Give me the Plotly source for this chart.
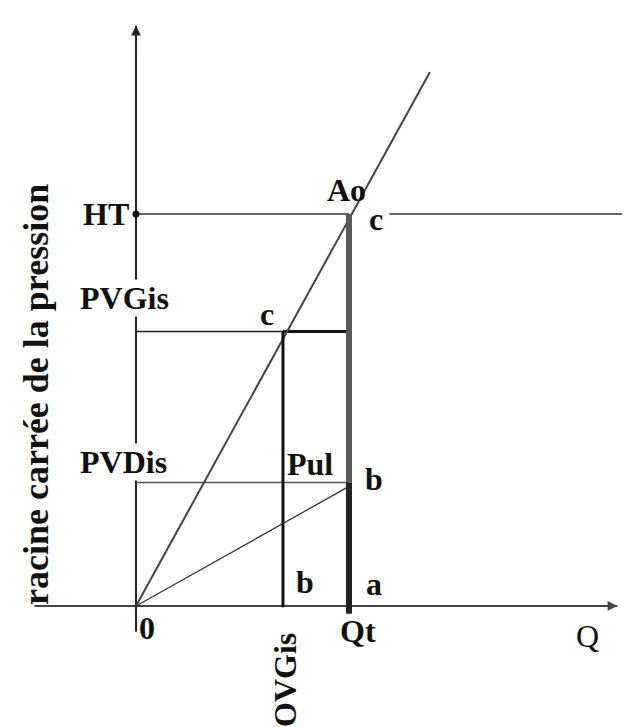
import plotly.graph_objects as go

# values in relative units (Qt = 1 on the flow axis, HT = 1 on the pressure axis)
qt = 1.0
ovgis = 0.69
ht = 1.0
pvgis = 0.70
pvdis = 0.315

ao_line_x = [0, 1.38]      # line through the origin and Ao
ao_line_y = [0, 1.362]
pul_line_x = [0, qt]       # line from the origin to b
pul_line_y = [0, 0.305]

x_axis_span = [-0.476, 2.26]
y_axis_span = [-0.066, 1.48]
ht_right_part = [1.19, 2.32]

# page has an 8px body margin, so the figure starts at (8, 8)
x_range = [-0.601, 2.3192]
y_range = [-0.3087, 1.5255]

serif = "Liberation Serif, Times New Roman, serif"


def at(px, py):
    # pixel position on the 630x727 page -> data units
    return (px - 136) / 213, (606 - py) / 392


fig = go.Figure()


def seg(x, y, color, width):
    fig.add_trace(go.Scatter(x=x, y=y, mode="lines",
                             line=dict(color=color, width=width),
                             hoverinfo="skip", showlegend=False))


# axes
seg(x_axis_span, [0, 0], "#444444", 2)
seg([0, 0], y_axis_span, "#222222", 2)

# horizontal levels
seg([0, qt], [ht, ht], "#333333", 1.3)
seg(ht_right_part, [ht, ht], "#333333", 1.3)
seg([0, ovgis], [pvgis, pvgis], "#222222", 1.5)
seg([ovgis, qt], [pvgis, pvgis], "#111111", 3)
seg([0, qt], [pvdis, pvdis], "#555555", 1.5)

# diagonals
seg(ao_line_x, ao_line_y, "#444444", 2)
seg(pul_line_x, pul_line_y, "#333333", 1.3)

# verticals
seg([ovgis, ovgis], [-0.003, pvgis], "#111111", 3)
seg([qt, qt], [pvdis, ht], "#5a5a5a", 6)
seg([qt, qt], [-0.02, pvdis], "#222222", 6)

# HT point
fig.add_trace(go.Scatter(x=[0], y=[ht], mode="markers",
                         marker=dict(color="#111111", size=7),
                         hoverinfo="skip", showlegend=False))

# arrow heads of the axes
fig.add_annotation(x=x_axis_span[1], y=0, ax=x_axis_span[1] - 0.08, ay=0,
                   xref="x", yref="y", axref="x", ayref="y", text="",
                   showarrow=True, arrowhead=2, arrowsize=1.3, arrowwidth=1.5,
                   arrowcolor="#444444")
fig.add_annotation(x=0, y=y_axis_span[1], ax=0, ay=y_axis_span[1] - 0.08,
                   xref="x", yref="y", axref="x", ayref="y", text="",
                   showarrow=True, arrowhead=2, arrowsize=1.3, arrowwidth=1.5,
                   arrowcolor="#222222")

labels = [
    ("HT", 106, 214, True, None),
    ("Ao", 346, 190, True, None),
    ("c", 376, 219, True, None),
    ("PVGis", 124, 298, True, "white"),
    ("c", 267, 314, True, None),
    ("PVDis", 123, 462, True, "white"),
    ("Pul", 310, 464, True, None),
    ("b", 374, 479, True, None),
    ("b", 305, 582, True, None),
    ("a", 374, 584, True, None),
    ("0", 147, 628, True, None),
    ("Qt", 358, 631, True, None),
    ("Q", 587, 636, False, None),
]
for txt, px, py, bold, bg in labels:
    x, y = at(px, py)
    fig.add_annotation(x=x, y=y, xref="x", yref="y", showarrow=False,
                       text="<b>%s</b>" % txt if bold else txt,
                       font=dict(family=serif, size=32, color="#111111"),
                       bgcolor=bg, borderpad=0)

x, y = at(285, 680)
fig.add_annotation(x=x, y=y, xref="x", yref="y", showarrow=False,
                   text="<b>OVGis</b>", textangle=-90,
                   font=dict(family=serif, size=32, color="#111111"))

x, y = at(36, 395)
fig.add_annotation(x=x, y=y, xref="x", yref="y", showarrow=False,
                   text="<b>racine carrée de la pression</b>", textangle=-90,
                   font=dict(family=serif, size=36, color="#111111"))

fig.update_layout(
    width=622,
    height=719,
    margin=dict(l=0, r=0, t=0, b=0),
    paper_bgcolor="white",
    plot_bgcolor="white",
    xaxis=dict(range=x_range, visible=False, fixedrange=True),
    yaxis=dict(range=y_range, visible=False, fixedrange=True),
)

fig.write_html("out.html")
